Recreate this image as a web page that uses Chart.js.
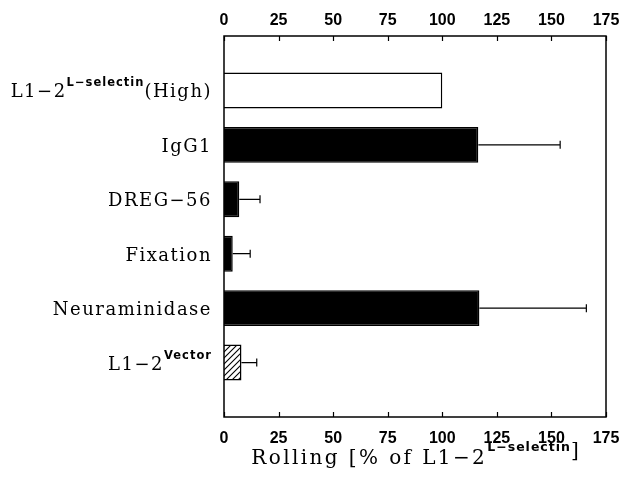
<!DOCTYPE html>
<html>
<head>
<meta charset="utf-8">
<script src="https://cdn.jsdelivr.net/npm/chart.js@4.4.1/dist/chart.umd.min.js"></script>
<style>
  html, body { margin: 0; padding: 0; background: #fff; }
  #wrap { width: 632px; height: 482px; }
</style>
</head>
<body>
<div id="wrap"><canvas id="chart" width="632" height="482"></canvas></div>
<script>
// category labels are split into base text, superscript and suffix
const categories = ['L1\u22122', 'IgG1', 'DREG\u221256', 'Fixation', 'Neuraminidase', 'L1\u22122'];
const superscripts = ['L\u2212selectin', '', '', '', '', 'Vector'];
const suffixes = ['(High)', '', '', '', '', ''];
const rolling = [100, 116.5, 7, 4, 117, 8];
const rollingErr = [null, 37.5, 9.5, 8, 49, 7];
const barStyles = ['open', 'solid', 'solid', 'solid', 'solid', 'hatched'];
const xTicks = [0, 25, 50, 75, 100, 125, 150, 175];

const SERIF = '"DejaVu Serif", "Liberation Serif", serif';
const SANS = '"Liberation Sans", Arial, sans-serif';
const SUP = '"DejaVu Sans", sans-serif';

function hatchPattern(ctx) {
    const c = document.createElement('canvas');
    c.width = 6; c.height = 6;
    const p = c.getContext('2d');
    p.fillStyle = '#fff';
    p.fillRect(0, 0, 6, 6);
    p.strokeStyle = '#000';
    p.lineWidth = 1.1;
    p.beginPath();
    p.moveTo(-1, 7); p.lineTo(7, -1);
    p.moveTo(-4, 4); p.lineTo(4, -4);
    p.moveTo(2, 10); p.lineTo(10, 2);
    p.stroke();
    return ctx.createPattern(c, 'repeat');
}

const canvas = document.getElementById('chart');
const ctx = canvas.getContext('2d');

// pad with an empty slot above and below so the bars sit like the original
const labels = ['', ...categories.map((c, i) => c + superscripts[i] + suffixes[i]), ''];
const values = [null, ...rolling, null];
const fills = [null, ...barStyles.map(s => s === 'open' ? '#fff' : s === 'hatched' ? hatchPattern(ctx) : '#000'), null];

// draw a run of text pieces (with superscripts) right-aligned or centred at x
function drawPieces(ctx, pieces, x, y, align) {
    let total = 0;
    const widths = pieces.map(p => {
        ctx.font = p.font;
        ctx.letterSpacing = p.sp + 'px';
        const w = ctx.measureText(p.text).width;
        total += w;
        return w;
    });
    let cx = align === 'right' ? x - total : x - total / 2;
    pieces.forEach((p, i) => {
        ctx.font = p.font;
        ctx.letterSpacing = p.sp + 'px';
        ctx.fillText(p.text, cx, y + (p.dy || 0));
        cx += widths[i];
    });
}

const framePlugin = {
    id: 'frame',
    afterDraw(chart) {
        const { ctx, chartArea: a } = chart;
        const xs = chart.scales.x;
        const ys = chart.scales.y;
        ctx.save();
        ctx.strokeStyle = '#000';
        ctx.lineWidth = 1.5;
        ctx.strokeRect(a.left, a.top, a.right - a.left, a.bottom - a.top);

        // inward tick marks on top and bottom
        ctx.lineWidth = 1.2;
        xTicks.forEach(v => {
            const px = Math.round(xs.getPixelForValue(v)) + 0.5;
            ctx.beginPath();
            ctx.moveTo(px, a.top); ctx.lineTo(px, a.top + 5);
            ctx.moveTo(px, a.bottom); ctx.lineTo(px, a.bottom - 5);
            ctx.stroke();
        });

        // error bars
        const meta = chart.getDatasetMeta(0);
        ctx.lineWidth = 1.2;
        rolling.forEach((v, i) => {
            const e = rollingErr[i];
            if (e == null) return;
            const bar = meta.data[i + 1];
            const x0 = xs.getPixelForValue(v);
            const x1 = xs.getPixelForValue(v + e);
            ctx.beginPath();
            ctx.moveTo(x0, bar.y); ctx.lineTo(x1, bar.y);
            ctx.moveTo(x1, bar.y - 4); ctx.lineTo(x1, bar.y + 4);
            ctx.stroke();
        });

        // category labels with superscripts
        ctx.fillStyle = '#000';
        ctx.textBaseline = 'alphabetic';
        ctx.textAlign = 'left';
        const mainFont = '18px ' + SERIF;
        const supFont = 'bold 11.5px ' + SUP;
        categories.forEach((c, i) => {
            const y = ys.getPixelForValue(i + 1) + 7;
            const pieces = [{ text: c, font: mainFont, sp: 1.5 }];
            if (superscripts[i]) pieces.push({ text: superscripts[i], font: supFont, sp: 1, dy: -11 });
            if (suffixes[i]) pieces.push({ text: suffixes[i], font: mainFont, sp: 1.5 });
            drawPieces(ctx, pieces, a.left - 12, y, 'right');
        });

        // axis title
        drawPieces(ctx, [
            { text: 'Rolling [% of L1\u22122', font: '20px ' + SERIF, sp: 2.4 },
            { text: 'L\u2212selectin', font: 'bold 12.5px ' + SUP, sp: 1, dy: -13 },
            { text: ']', font: '20px ' + SERIF, sp: 0, dy: -7 }
        ], (a.left + a.right) / 2, 464, 'center');
        ctx.restore();
    }
};

const xAxis = (position, height, pad) => ({
    type: 'linear',
    position,
    min: 0,
    max: 175,
    afterBuildTicks: s => { s.ticks = xTicks.map(v => ({ value: v })); },
    afterFit: s => { s.height = height; },
    ticks: {
        color: '#000',
        padding: pad,
        font: { family: SANS, size: 16, weight: 'bold' }
    },
    grid: { display: false, drawTicks: false },
    border: { display: false }
});

new Chart(ctx, {
    type: 'bar',
    data: {
        labels,
        datasets: [{
            data: values,
            backgroundColor: fills,
            borderColor: '#000',
            borderWidth: 1.5,
            barPercentage: 0.66,
            categoryPercentage: 1.0,
            xAxisID: 'x',
            yAxisID: 'y'
        }]
    },
    options: {
        indexAxis: 'y',
        responsive: false,
        animation: false,
        layout: { padding: { left: 0, right: 26, top: 0, bottom: 0 } },
        plugins: {
            legend: { display: false },
            tooltip: { enabled: false }
        },
        scales: {
            x: xAxis('bottom', 65, 12),
            x2: xAxis('top', 36, 6),
            y: {
                type: 'category',
                offset: false,
                afterFit: s => { s.width = 224; },
                ticks: { display: false },
                grid: { display: false },
                border: { display: false }
            }
        }
    },
    plugins: [framePlugin]
});
</script>
</body>
</html>
